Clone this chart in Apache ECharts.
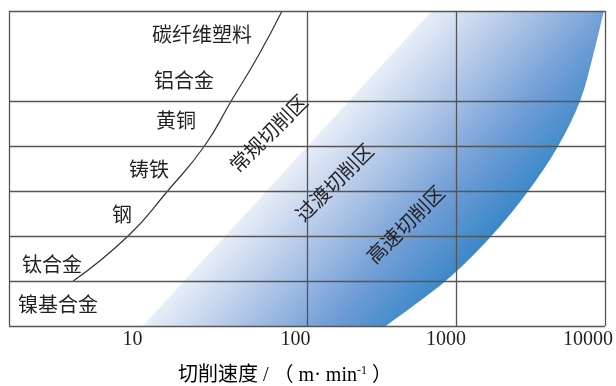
<!DOCTYPE html>
<html>
<head>
<meta charset="utf-8">
<script src="https://cdn.jsdelivr.net/npm/echarts@6/dist/echarts.min.js"></script>
<style>html,body{margin:0;padding:0;background:#fff;}#c{width:616px;height:386px;}</style>
</head>
<body>
<div id="c"></div>
<script>
// ---- data ----
const categories = ['碳纤维塑料', '铝合金', '黄铜', '铸铁', '钢', '钛合金', '镍基合金'];
const zoneNames = ['常规切削区', '过渡切削区', '高速切削区'];
const speedTicks = [10, 100, 1000, 10000];
const boundarySpeed = [2.7, 6.3, 11.6, 20.5, 31, 47, 68];
const boundaryLevel = [1, 2, 3, 4, 5, 6, 7];
const bandLeftSpeed = [7.9, 686];
const bandLeftLevel = [0, 7];
const bandRightSpeed = [338, 850, 1727, 3055, 4850, 6800, 8300, 9840];
const bandRightLevel = [0, 1, 2, 3, 4, 5, 6, 7];
const rowLines = [0, 1, 2, 3, 4, 5, 7];
const gridSpeeds = [1, 100, 1000, 10000];

// ---- layout ----
const FONT = "'Liberation Serif', 'Noto Sans CJK SC', serif";
const TXT = '#231f20';
const LINE = '#555';
const catPos = [[202, 37], [184, 83], [176, 123], [149, 172], [122, 217], [52, 267], [58, 307]];
const zonePos = [[270, 135], [336, 184], [407, 226]];
const tickPad = {10: 51, 100: 23, 1000: 20, 10000: 34};

const chart = echarts.init(document.getElementById('c'), null, {renderer: 'canvas'});

const richTicks = {};
speedTicks.forEach(v => {
  richTicks['t' + v] = {fontSize: 20, fontFamily: FONT, color: TXT, padding: [0, tickPad[v], 0, 0]};
});

const markData = gridSpeeds.map(v => ({xAxis: v})).concat(rowLines.map(v => ({yAxis: v})));

const option = {
  animation: false,
  grid: {left: 9, right: 9, top: 11, bottom: 60, show: false},
  xAxis: {
    type: 'log', logBase: 10, min: 1, max: 10000,
    axisLine: {show: false}, axisTick: {show: false}, splitLine: {show: false},
    axisLabel: {
      margin: 4,
      formatter: v => speedTicks.indexOf(v) >= 0 ? '{t' + v + '|' + v + '}' : '',
      rich: richTicks
    }
  },
  yAxis: {
    type: 'value', min: 0, max: 7,
    axisLine: {show: false}, axisTick: {show: false}, splitLine: {show: false}, axisLabel: {show: false}
  },
  series: [
    {
      type: 'custom',
      z: 1,
      silent: true,
      data: [0],
      renderItem: function (params, api) {
        const L = bandLeftSpeed.map((s, i) => api.coord([s, bandLeftLevel[i]]));
        const R = bandRightSpeed.map((s, i) => api.coord([s, bandRightLevel[i]])).reverse();
        let d = 'M' + L[0][0] + ',' + L[0][1] + ' L' + L[1][0] + ',' + L[1][1] + ' L' + R[0][0] + ',' + R[0][1];
        const n = R.length;
        for (let i = 0; i < n - 1; i++) {
          const p0 = R[Math.max(i - 1, 0)], p1 = R[i], p2 = R[i + 1], p3 = R[Math.min(i + 2, n - 1)];
          const c1 = [p1[0] + (p2[0] - p0[0]) / 6, p1[1] + (p2[1] - p0[1]) / 6];
          const c2 = [p2[0] - (p3[0] - p1[0]) / 6, p2[1] - (p3[1] - p1[1]) / 6];
          d += ' C' + c1[0] + ',' + c1[1] + ' ' + c2[0] + ',' + c2[1] + ' ' + p2[0] + ',' + p2[1];
        }
        d += ' Z';
        const dx = L[1][0] - L[0][0], dy = L[1][1] - L[0][1];
        const len = Math.sqrt(dx * dx + dy * dy);
        const nx = -dy / len, ny = dx / len;
        const sx = (L[0][0] + L[1][0]) / 2, sy = (L[0][1] + L[1][1]) / 2;
        const G = 200;
        return {
          type: 'path',
          shape: {pathData: d},
          style: {
            fill: new echarts.graphic.LinearGradient(sx, sy, sx + nx * G, sy + ny * G, [
              {offset: 0, color: '#e8eef8'},
              {offset: 0.35, color: '#adc4e6'},
              {offset: 0.68, color: '#6f9dd5'},
              {offset: 1, color: '#3686c8'}
            ], true),
            stroke: null
          }
        };
      }
    },
    {
      type: 'line',
      z: 3,
      silent: true,
      smooth: 0.5,
      showSymbol: false,
      lineStyle: {color: '#333', width: 1.2},
      data: boundarySpeed.map((s, i) => [s, boundaryLevel[i]]),
      markLine: {
        silent: true,
        symbol: 'none',
        label: {show: false},
        lineStyle: {color: LINE, type: 'solid', width: 1.3},
        data: markData
      }
    }
  ],
  graphic: [].concat(
    categories.map((c, i) => ({
      type: 'text', x: catPos[i][0], y: catPos[i][1], z: 10, silent: true,
      style: {text: c, fontSize: 20, fontFamily: FONT, fill: TXT, align: 'center', verticalAlign: 'middle'}
    })),
    zoneNames.map((c, i) => ({
      type: 'text', x: zonePos[i][0], y: zonePos[i][1], rotation: Math.PI / 4, z: 10, silent: true,
      style: {text: c, fontSize: 20, fontFamily: FONT, fill: TXT, align: 'center', verticalAlign: 'middle'}
    })),
    [{
      type: 'text', x: 285, y: 376, z: 10, silent: true,
      style: {
        text: '{t|切削速度 / （ m· min}{s|-1}{t| ）}',
        align: 'center', verticalAlign: 'middle',
        rich: {
          t: {fontSize: 20, fontFamily: FONT, color: TXT},
          s: {fontSize: 12, fontFamily: FONT, color: TXT, verticalAlign: 'top', padding: [0, 0, 10, 0]}
        }
      }
    }]
  )
};
chart.setOption(option);
</script>
</body>
</html>
